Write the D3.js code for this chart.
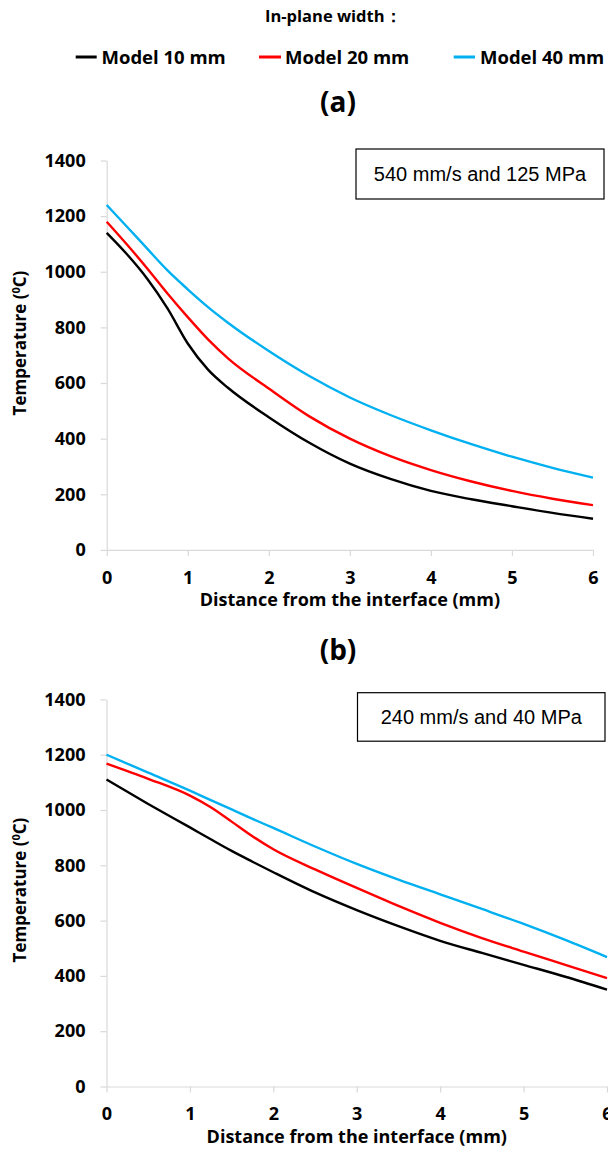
<!DOCTYPE html>
<html>
<head>
<meta charset="utf-8">
<script src="https://cdn.jsdelivr.net/npm/d3@7"></script>
<style>
  html, body { margin: 0; padding: 0; background: #fff; }
  svg { display: block; }
  .lbl { font-family: "Open Sans", Lato, sans-serif; font-weight: 700; fill: #000; }
  .note { font-family: "Liberation Sans", Arial, sans-serif; fill: #000; }
</style>
</head>
<body>
<svg id="chart" width="608" height="1150"></svg>
<script>
// Distance from the interface (mm)
const distanceA = [0, 0.25, 0.5, 0.75, 1, 1.25, 1.5, 2, 2.5, 3, 3.5, 4, 4.5, 5, 5.5, 6];
const distanceB = [0, 0.5, 1, 1.25, 1.5, 1.75, 2, 2.5, 3, 3.5, 4, 4.5, 5, 5.5, 6];

// (a) 540 mm/s and 125 MPa — temperature (°C)
const tempA_10mm = [1140, 1063, 975, 868, 742, 648, 582, 477, 385, 310, 255, 212, 182, 157, 133, 112];
const tempA_20mm = [1180, 1098, 1012, 922, 837, 757, 688, 580, 480, 400, 337, 287, 246, 212, 184, 161];
const tempA_40mm = [1240, 1162, 1083, 1005, 937, 873, 816, 715, 625, 548, 485, 430, 380, 335, 295, 260];

// (b) 240 mm/s and 40 MPa — temperature (°C)
const tempB_10mm = [1110, 1022, 937, 894, 852, 813, 775, 702, 638, 580, 527, 483, 440, 397, 350];
const tempB_20mm = [1168, 1113, 1052, 1010, 958, 905, 858, 785, 718, 653, 592, 537, 488, 440, 392];
const tempB_40mm = [1200, 1135, 1070, 1036, 1002, 968, 935, 868, 805, 748, 695, 642, 588, 530, 468];

const seriesNames = ["Model 10 mm", "Model 20 mm", "Model 40 mm"];
const seriesColors = ["#000000", "#ff0000", "#00b0f0"];
const xTicks = [0, 1, 2, 3, 4, 5, 6];
const yTicks = [0, 200, 400, 600, 800, 1000, 1200, 1400];
const legendTitle = "In-plane width\uFF1A";
const xTitle = "Distance from the interface (mm)";

const panels = [
  { tag: "(a)", note: "540 mm/s and 125 MPa", x: distanceA,
    series: [tempA_10mm, tempA_20mm, tempA_40mm],
    left: 106.7, right: 593, top: 160.5, bottom: 549.9,
    tagY: 112, yTitleY: 343, noteBox: [356, 149, 248, 50] },
  { tag: "(b)", note: "240 mm/s and 40 MPa", x: distanceB,
    series: [tempB_10mm, tempB_20mm, tempB_40mm],
    left: 106.5, right: 607, top: 699.4, bottom: 1086.5,
    tagY: 660, yTitleY: 890, noteBox: [357.5, 692.7, 247.5, 48.5] }
];

const svg = d3.select("#chart");

// Legend header and entries
svg.append("text").attr("class", "lbl")
  .attr("x", 265).attr("y", 22).attr("font-size", 16.5)
  .text(legendTitle);

const legendItems = [
  { x0: 75.7, x1: 96.7, tx: 101.5 },
  { x0: 259, x1: 281, tx: 285 },
  { x0: 453.7, x1: 475, tx: 480 }
];
legendItems.forEach((it, i) => {
  svg.append("line")
    .attr("x1", it.x0).attr("x2", it.x1).attr("y1", 57).attr("y2", 57)
    .attr("stroke", seriesColors[i]).attr("stroke-width", 3);
  svg.append("text").attr("class", "lbl")
    .attr("x", it.tx).attr("y", 64).attr("font-size", 18.5)
    .text(seriesNames[i]);
});

panels.forEach(p => {
  const g = svg.append("g");
  const x = d3.scaleLinear().domain([0, 6]).range([p.left, p.right]);
  const y = d3.scaleLinear().domain([0, 1400]).range([p.bottom, p.top]);

  // panel tag
  g.append("text").attr("class", "lbl")
    .attr("x", 338).attr("y", p.tagY).attr("text-anchor", "middle")
    .attr("font-size", 28).text(p.tag);

  // axes
  const fmt = d3.format("d");
  const yAxis = d3.axisLeft(y).tickValues(yTicks).tickFormat(fmt)
    .tickSize(6).tickSizeOuter(0).tickPadding(15);
  const xAxis = d3.axisBottom(x).tickValues(xTicks).tickFormat(fmt)
    .tickSize(6).tickSizeOuter(0).tickPadding(15);

  const ya = g.append("g").attr("transform", `translate(${p.left},0)`).call(yAxis);
  const xa = g.append("g").attr("transform", `translate(0,${p.bottom})`).call(xAxis);
  [ya, xa].forEach(a => {
    a.select(".domain").attr("stroke", "#d9d9d9").attr("stroke-width", 1.2);
    a.selectAll(".tick line").attr("stroke", "#d9d9d9").attr("stroke-width", 1.2);
    a.selectAll(".tick text")
      .attr("font-family", "'Open Sans', Lato, sans-serif")
      .attr("font-weight", 700).attr("font-size", 18).attr("fill", "#000");
  });

  // axis titles
  g.append("text").attr("class", "lbl")
    .attr("x", (p.left + p.right) / 2).attr("y", p.bottom + 56)
    .attr("text-anchor", "middle").attr("font-size", 18)
    .text(xTitle);

  const yt = g.append("text").attr("class", "lbl")
    .attr("transform", `translate(26,${p.yTitleY}) rotate(-90)`)
    .attr("text-anchor", "middle").attr("font-size", 17);
  yt.append("tspan").text("Temperature (");
  yt.append("tspan").attr("font-size", 11).attr("dy", -6).text("0");
  yt.append("tspan").attr("dy", 6).text("C)");

  // condition box
  const [bx, by, bw, bh] = p.noteBox;
  g.append("rect").attr("x", bx).attr("y", by).attr("width", bw).attr("height", bh)
    .attr("fill", "#fff").attr("stroke", "#000").attr("stroke-width", 1.2);
  g.append("text").attr("class", "note")
    .attr("x", bx + bw / 2).attr("y", by + bh / 2 + 7)
    .attr("text-anchor", "middle").attr("font-size", 20)
    .text(p.note);

  // temperature curves
  const line = d3.line()
    .x(d => x(d[0])).y(d => y(d[1]))
    .curve(d3.curveMonotoneX);
  p.series.forEach((vals, i) => {
    g.append("path")
      .datum(p.x.map((d, k) => [d, vals[k]]))
      .attr("fill", "none")
      .attr("stroke", seriesColors[i])
      .attr("stroke-width", 2.4)
      .attr("stroke-linejoin", "round")
      .attr("d", line);
  });
});
</script>
</body>
</html>
